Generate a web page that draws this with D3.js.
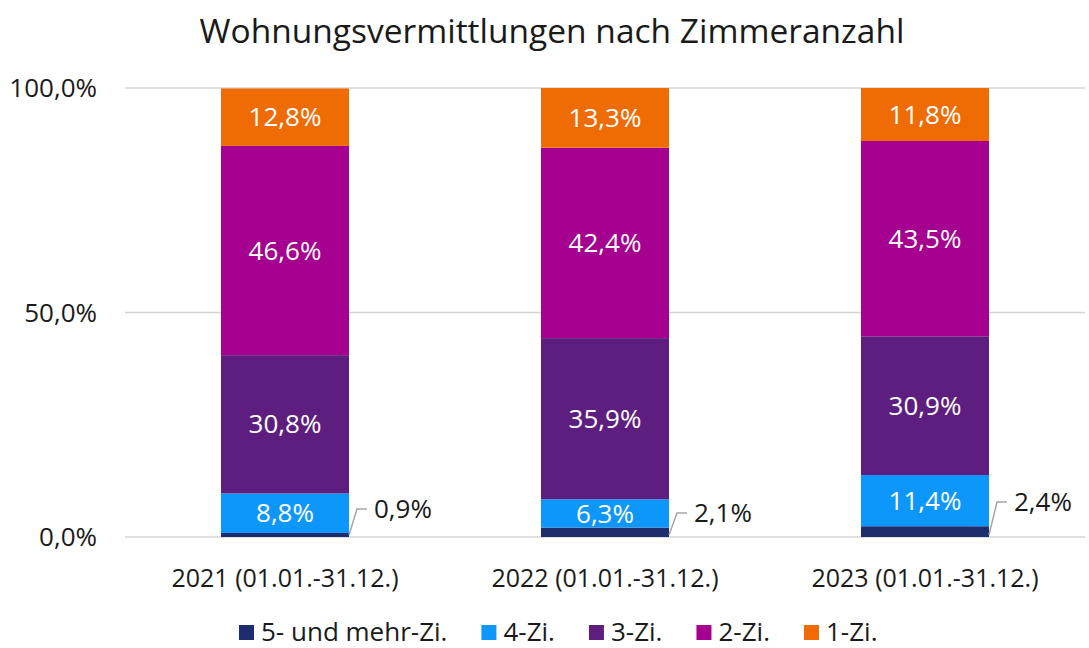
<!DOCTYPE html>
<html>
<head>
<meta charset="utf-8">
<script src="https://cdn.jsdelivr.net/npm/d3@7.9.0/dist/d3.min.js"></script>
<style>
  body { margin: 0; background: #fff; }
  svg { display: block; font-family: "Open Sans", sans-serif; }
</style>
</head>
<body>
<svg id="chart" width="1089" height="648"></svg>
<script>
// data
const years = ['2021 (01.01.-31.12.)', '2022 (01.01.-31.12.)', '2023 (01.01.-31.12.)'];
const seriesNames = ['5- und mehr-Zi.', '4-Zi.', '3-Zi.', '2-Zi.', '1-Zi.'];
const fuenfZi = [0.9, 2.1, 2.4];
const vierZi = [8.8, 6.3, 11.4];
const dreiZi = [30.8, 35.9, 30.9];
const zweiZi = [46.6, 42.4, 43.5];
const einZi = [12.8, 13.3, 11.8];
const yTicks = [0, 50, 100];

const colors = ['#1f2d6e', '#0e97fb', '#5e1e80', '#a5008f', '#ef6c05'];
const allSeries = [fuenfZi, vierZi, dreiZi, zweiZi, einZi];

const rows = years.map((y, i) => {
    let row = { year: y };
    seriesNames.forEach((s, j) => row[s] = allSeries[j][i]);
    return row;
});

const svg = d3.select('#chart');
const margin = { left: 125, right: 4, top: 88, bottom: 111 };
const W = 1089, H = 648;

let x = d3.scaleBand().domain(years).range([margin.left, W - margin.right]).paddingInner(0.6).paddingOuter(0.3);
let y = d3.scaleLinear().domain([0, 100]).range([H - margin.bottom, margin.top]);

// title
svg.append('text')
    .attr('x', 552).attr('y', 43)
    .attr('text-anchor', 'middle')
    .attr('font-size', 33.5)
    .attr('fill', '#1a1a1a')
    .text('Wohnungsvermittlungen nach Zimmeranzahl');

// gridlines + y labels
yTicks.forEach(t => {
    svg.append('line')
        .attr('x1', margin.left).attr('x2', W - margin.right)
        .attr('y1', y(t)).attr('y2', y(t))
        .attr('stroke', '#d4d4d4').attr('stroke-width', 1.5);
    svg.append('text')
        .attr('x', 97).attr('y', y(t))
        .attr('dy', '0.35em')
        .attr('text-anchor', 'end')
        .attr('font-size', 26)
        .attr('fill', '#1a1a1a')
        .text(d3.format('.1f')(t).replace('.', ',') + '%');
});

let stack = d3.stack().keys(seriesNames);
let stacked = stack(rows);

const fmt = v => d3.format('.1f')(v).replace('.', ',') + '%';

stacked.forEach((layer, j) => {
    let g = svg.append('g');
    g.selectAll('rect')
        .data(layer)
        .join('rect')
        .attr('x', d => x(d.data.year))
        .attr('width', x.bandwidth())
        .attr('y', d => y(d[1]))
        .attr('height', d => y(d[0]) - y(d[1]))
        .attr('fill', colors[j]);

    if (j > 0) {
        g.selectAll('text')
            .data(layer)
            .join('text')
            .attr('x', d => x(d.data.year) + x.bandwidth() / 2)
            .attr('y', d => (y(d[0]) + y(d[1])) / 2)
            .attr('dy', '0.35em')
            .attr('text-anchor', 'middle')
            .attr('font-size', 26)
            .attr('fill', '#fff')
            .text(d => fmt(d[1] - d[0]));
    }
});

// leader lines for the thin bottom segment
const leaderRise = [26, 22, 33];
stacked[0].forEach((d, i) => {
    let x0 = x(d.data.year) + x.bandwidth();
    let y0 = y(0) - 2;
    let y1 = y0 - leaderRise[i];
    svg.append('path')
        .attr('d', `M${x0},${y0} L${x0 + 8},${y1} L${x0 + 18},${y1}`)
        .attr('fill', 'none')
        .attr('stroke', '#a6a6a6')
        .attr('stroke-width', 1.5);
    svg.append('text')
        .attr('x', x0 + 25).attr('y', y1)
        .attr('dy', '0.35em')
        .attr('font-size', 26)
        .attr('fill', '#1a1a1a')
        .text(fmt(d[1] - d[0]));
});

// x labels
svg.append('g').selectAll('text')
    .data(years)
    .join('text')
    .attr('x', d => x(d) + x.bandwidth() / 2)
    .attr('y', 578)
    .attr('dy', '0.35em')
    .attr('text-anchor', 'middle')
    .attr('font-size', 25)
    .attr('fill', '#1a1a1a')
    .text(d => d);

// legend
let lx = 239;
seriesNames.forEach((s, j) => {
    svg.append('rect')
        .attr('x', lx).attr('y', 625)
        .attr('width', 15).attr('height', 15)
        .attr('fill', colors[j]);
    let t = svg.append('text')
        .attr('x', lx + 22).attr('y', 632)
        .attr('dy', '0.35em')
        .attr('font-size', 26)
        .attr('fill', '#1a1a1a')
        .text(s);
    lx += 22 + t.node().getComputedTextLength() + 34;
});
</script>
</body>
</html>
